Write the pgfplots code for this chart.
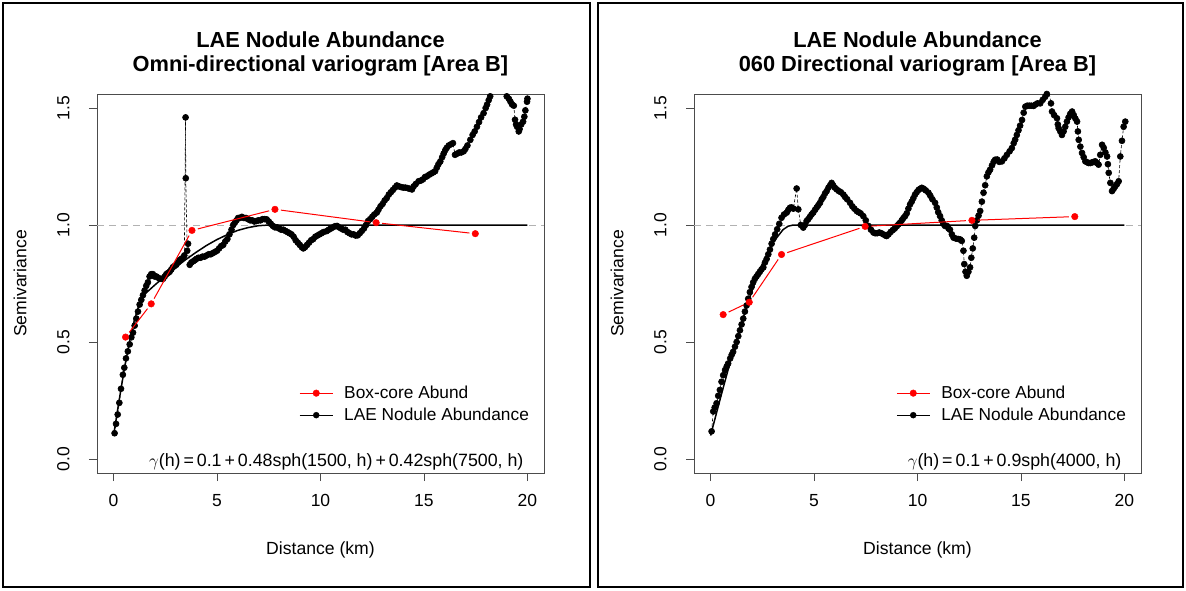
\documentclass[border=0pt]{standalone}
\usepackage{fontspec}
\setmainfont{Liberation Sans}
\usepackage{pgfplots}
\pgfplotsset{compat=1.18}

\pgfplotstableread{
x y
0.05 0.11
0.12 0.15
0.20 0.19
0.28 0.24
0.36 0.30
0.45 0.36
0.52 0.39
0.60 0.43
0.69 0.46
0.78 0.49
0.86 0.52
0.94 0.54
1.02 0.57
1.10 0.60
1.18 0.63
1.26 0.66
1.34 0.68
1.42 0.70
1.50 0.72
1.58 0.74
1.66 0.755
1.74 0.78
1.82 0.79
1.90 0.79
1.98 0.78
2.07 0.78
2.15 0.775
2.23 0.77
2.31 0.77
2.39 0.77
2.47 0.78
2.55 0.79
2.63 0.795
2.71 0.80
2.79 0.81
2.87 0.82
2.95 0.825
3.03 0.83
3.11 0.84
3.19 0.85
3.27 0.855
3.36 0.86
3.42 0.87
3.48 1.46
3.49 1.20
3.56 0.89
3.60 0.92
3.68 0.83
3.76 0.84
3.85 0.845
3.93 0.85
4.00 0.855
4.10 0.86
4.20 0.86
4.30 0.865
4.40 0.865
4.50 0.87
4.60 0.875
4.70 0.875
4.80 0.88
4.90 0.885
5.00 0.89
5.10 0.90
5.20 0.91
5.30 0.915
5.40 0.93
5.50 0.94
5.60 0.96
5.70 0.98
5.78 1.00
5.86 1.01
5.94 1.02
6.02 1.03
6.10 1.03
6.20 1.035
6.30 1.03
6.40 1.03
6.50 1.025
6.60 1.02
6.70 1.02
6.80 1.015
6.90 1.017
7.00 1.02
7.10 1.02
7.20 1.025
7.30 1.025
7.40 1.024
7.50 1.015
7.60 1.005
7.70 0.996
7.80 0.99
7.90 0.99
8.00 0.985
8.10 0.98
8.20 0.98
8.30 0.975
8.40 0.97
8.50 0.965
8.60 0.96
8.70 0.95
8.80 0.935
8.90 0.925
9.00 0.915
9.10 0.905
9.17 0.90
9.25 0.905
9.35 0.915
9.45 0.925
9.55 0.935
9.65 0.94
9.75 0.95
9.85 0.955
9.95 0.96
10.05 0.965
10.15 0.97
10.30 0.974
10.40 0.98
10.50 0.985
10.60 0.99
10.70 0.995
10.80 0.996
10.90 0.99
11.00 0.985
11.10 0.98
11.20 0.98
11.30 0.97
11.40 0.965
11.50 0.96
11.60 0.96
11.70 0.955
11.80 0.956
11.90 0.965
12.00 0.975
12.10 0.985
12.20 1.00
12.30 1.017
12.40 1.025
12.50 1.035
12.60 1.045
12.72 1.053
12.80 1.065
12.90 1.08
13.00 1.09
13.10 1.105
13.20 1.115
13.30 1.13
13.40 1.14
13.50 1.15
13.60 1.16
13.69 1.169
13.80 1.165
13.90 1.162
14.00 1.16
14.10 1.16
14.20 1.158
14.30 1.155
14.42 1.152
14.50 1.165
14.60 1.175
14.74 1.187
14.85 1.19
14.95 1.195
15.05 1.205
15.14 1.208
15.25 1.215
15.35 1.22
15.45 1.225
15.54 1.23
15.62 1.245
15.70 1.26
15.79 1.272
15.88 1.29
15.95 1.305
16.03 1.32
16.10 1.33
16.20 1.34
16.30 1.345
16.40 1.35
16.50 1.30
16.60 1.305
16.70 1.31
16.80 1.31
16.92 1.315
17.00 1.325
17.10 1.34
17.24 1.364
17.35 1.385
17.45 1.40
17.56 1.42
17.66 1.44
17.76 1.46
17.88 1.478
17.98 1.50
18.05 1.515
18.13 1.534
18.20 1.55
18.30 1.58
18.45 1.61
18.60 1.62
18.80 1.58
19.00 1.55
19.10 1.54
19.18 1.527
19.26 1.515
19.34 1.51
19.40 1.45
19.45 1.43
19.50 1.42
19.58 1.40
19.62 1.41
19.70 1.43
19.79 1.442
19.85 1.463
19.90 1.49
19.98 1.527
20.00 1.54
}\omnidata

\pgfplotstableread{
x y
0.05 0.118
0.13 0.203
0.20 0.22
0.29 0.238
0.37 0.27
0.45 0.295
0.53 0.33
0.61 0.358
0.70 0.38
0.78 0.395
0.85 0.408
0.95 0.43
1.02 0.445
1.09 0.458
1.18 0.48
1.26 0.50
1.34 0.525
1.42 0.55
1.50 0.575
1.58 0.60
1.66 0.63
1.74 0.656
1.82 0.685
1.90 0.713
1.98 0.735
2.06 0.755
2.14 0.77
2.22 0.78
2.30 0.79
2.38 0.80
2.46 0.81
2.55 0.819
2.63 0.84
2.71 0.855
2.79 0.875
2.87 0.895
2.95 0.92
3.03 0.94
3.12 0.96
3.22 0.982
3.32 1.005
3.43 1.031
3.55 1.045
3.68 1.053
3.76 1.065
3.84 1.074
3.92 1.075
4.00 1.07
4.16 1.156
4.24 1.067
4.36 1.00
4.48 0.989
4.56 1.00
4.64 1.017
4.72 1.025
4.80 1.035
4.88 1.045
4.96 1.053
5.05 1.065
5.13 1.075
5.21 1.085
5.29 1.095
5.37 1.11
5.45 1.12
5.53 1.135
5.61 1.145
5.70 1.16
5.78 1.17
5.85 1.18
5.92 1.17
6.00 1.16
6.10 1.152
6.20 1.145
6.30 1.14
6.42 1.13
6.50 1.12
6.60 1.11
6.74 1.095
6.85 1.08
6.95 1.07
7.06 1.06
7.15 1.055
7.25 1.05
7.38 1.038
7.50 1.02
7.63 0.996
7.75 0.98
7.87 0.968
7.95 0.965
8.05 0.965
8.15 0.968
8.25 0.965
8.35 0.96
8.45 0.955
8.51 0.953
8.60 0.96
8.70 0.97
8.80 0.978
8.90 0.985
9.00 0.995
9.08 1.003
9.16 1.01
9.24 1.02
9.32 1.03
9.40 1.038
9.48 1.05
9.56 1.07
9.64 1.088
9.72 1.10
9.80 1.115
9.88 1.13
9.96 1.14
10.05 1.15
10.13 1.155
10.21 1.159
10.30 1.155
10.40 1.148
10.53 1.138
10.62 1.125
10.72 1.11
10.85 1.095
10.93 1.075
11.00 1.055
11.09 1.038
11.17 1.02
11.25 1.005
11.33 0.996
11.42 0.996
11.50 0.985
11.57 0.98
11.66 0.96
11.74 0.946
11.86 0.942
11.98 0.94
12.07 0.938
12.14 0.932
12.22 0.89
12.26 0.833
12.32 0.80
12.38 0.783
12.46 0.80
12.54 0.819
12.60 0.86
12.67 0.90
12.74 0.946
12.79 0.996
12.87 1.02
12.95 1.04
13.03 1.06
13.11 1.10
13.19 1.138
13.27 1.17
13.35 1.208
13.43 1.225
13.51 1.237
13.60 1.255
13.68 1.27
13.75 1.279
13.85 1.28
13.95 1.27
14.08 1.272
14.20 1.285
14.32 1.30
14.45 1.315
14.56 1.329
14.65 1.35
14.72 1.365
14.80 1.385
14.88 1.405
14.96 1.425
15.05 1.449
15.13 1.48
15.21 1.506
15.30 1.51
15.40 1.51
15.50 1.51
15.61 1.509
15.70 1.515
15.80 1.52
15.93 1.52
16.05 1.535
16.17 1.548
16.25 1.56
16.35 1.57
16.45 1.52
16.50 1.485
16.60 1.47
16.74 1.456
16.78 1.43
16.82 1.414
16.90 1.40
16.98 1.385
17.06 1.40
17.14 1.42
17.22 1.442
17.30 1.46
17.38 1.475
17.47 1.485
17.55 1.47
17.63 1.455
17.71 1.442
17.75 1.40
17.79 1.364
17.87 1.335
17.95 1.308
18.03 1.29
18.11 1.272
18.20 1.268
18.27 1.265
18.35 1.265
18.45 1.268
18.52 1.27
18.59 1.272
18.67 1.265
18.75 1.258
18.83 1.30
18.92 1.343
19.00 1.33
19.08 1.31
19.16 1.293
19.20 1.26
19.24 1.223
19.32 1.18
19.40 1.145
19.48 1.155
19.56 1.166
19.64 1.175
19.72 1.187
19.80 1.293
19.88 1.36
19.96 1.42
20.04 1.442
}\dirdata

\pgfplotsset{
  vario/.style={
    scale only axis, width=447pt, height=379pt,
    anchor=south west, clip mode=individual,
    xmin=-0.8, xmax=20.8, ymin=-0.06, ymax=1.56,
    xtick={0,5,10,15,20}, ytick={0,0.5,1,1.5},
    tick pos=left, tick align=outside,
    major tick length=8pt,
    axis line style={black!70, line width=0.9pt},
    every tick/.style={black!70, line width=0.9pt},
    tick label style={font=\fontsize{17.5}{17.5}\selectfont, black},
    /pgf/number format/assume math mode=true,
    yticklabel style={rotate=90, anchor=south, /pgf/number format/fixed, /pgf/number format/fixed zerofill, /pgf/number format/precision=1},
    yticklabel shift=16pt,
    xticklabel shift=10pt,
    legend style={draw=none, fill=none, at={(0.452,0.235)}, anchor=north west,
      font=\fontsize{17.3}{17.3}\selectfont, inner sep=0pt, row sep=4pt,
      /tikz/every odd column/.append style={column sep=9pt}},
    legend cell align=left,
  },
  blk/.style={black, densely dashed, line width=0.6pt, mark=*, mark size=3pt,
    mark options={solid}},
  mdl/.style={black, line width=1.5pt, no markers},
  redpt/.style={only marks, red, mark=*, mark size=3.3pt},
  redln/.style={red, line width=1pt, no markers, shorten <=6pt, shorten >=6pt},
  gline/.style={black!30, dashed, line width=1pt, dash pattern=on 7pt off 5pt},
}

\begin{document}
\begin{tikzpicture}[x=1pt,y=1pt]
\path[use as bounding box] (0,0) rectangle (1186,590);
\draw[line width=2pt] (3,3) rectangle (590,587);
\draw[line width=2pt] (598,3) rectangle (1183,587);

% ---------------- left panel ----------------
\begin{axis}[vario, at={(97pt,117pt)}]
\addplot[gline, forget plot] coordinates {(-0.8,1) (20.8,1)};
\addplot[blk, forget plot] table {\omnidata};
\addplot[mdl, forget plot] coordinates {(0,0.1) (0.1,0.156) (0.25,0.240) (0.5,0.373) (0.75,0.493) (1,0.592) (1.25,0.665) (1.5,0.704) (2,0.744) (2.5,0.782) (3,0.819) (3.5,0.853) (4,0.884) (4.5,0.913) (5,0.938) (5.5,0.959) (6,0.977) (6.5,0.989) (7,0.997) (7.5,1.0) (20,1.0)};
\addplot[redln, forget plot] coordinates {(0.58,0.521) (1.82,0.663)};
\addplot[redln, forget plot] coordinates {(1.82,0.663) (3.79,0.977)};
\addplot[redln, forget plot] coordinates {(3.79,0.977) (7.8,1.067)};
\addplot[redln, forget plot] coordinates {(7.8,1.067) (12.69,1.01)};
\addplot[redln, forget plot] coordinates {(12.69,1.01) (17.48,0.963)};
\addplot[redpt, forget plot] coordinates {(0.58,0.521) (1.82,0.663) (3.79,0.977) (7.8,1.067) (12.69,1.01) (17.48,0.963)};
\addlegendimage{legend image code/.code={\draw[red, line width=1pt] (0pt,0pt) -- (33pt,0pt); \fill[red] (16.5pt,0pt) circle (3.3pt);}}
\addlegendentry{Box-core Abund}
\addlegendimage{legend image code/.code={\draw[black, line width=1pt] (0pt,0pt) -- (33pt,0pt); \fill[black] (16.5pt,0pt) circle (3pt);}}
\addlegendentry{LAE Nodule Abundance}
\node[anchor=east, font=\fontsize{17.8}{17}\selectfont] at (axis description cs:0.962,0.029) {$\gamma$(h)\,=\,0.1\,+\,0.48sph(1500, h)\,+\,0.42sph(7500, h)};
\node[font=\fontsize{17.6}{17}\selectfont] at (axis description cs:0.5,0) [yshift=-77pt] {Distance (km)};
\node[font=\fontsize{17.6}{17}\selectfont] at (axis description cs:0,0.5) [xshift=-77pt, rotate=90] {Semivariance};
\node[font=\bfseries\fontsize{21.8}{22}\selectfont] at (axis description cs:0.5,1) [yshift=54pt] {LAE Nodule Abundance};
\node[font=\bfseries\fontsize{21.8}{22}\selectfont] at (axis description cs:0.5,1) [yshift=28pt] {Omni-directional variogram [Area B]};
\end{axis}

% ---------------- right panel ----------------
\begin{axis}[vario, at={(694pt,117pt)}]
\addplot[gline, forget plot] coordinates {(-0.8,1) (20.8,1)};
\addplot[blk, forget plot] table {\dirdata};
\addplot[mdl, forget plot] coordinates {(0,0.1) (0.25,0.184) (0.5,0.268) (1,0.431) (1.5,0.583) (2,0.719) (2.5,0.834) (3,0.923) (3.5,0.980) (3.75,0.995) (4,1.0) (20,1.0)};
\addplot[redln, forget plot] coordinates {(0.61,0.617) (1.87,0.67)};
\addplot[redln, forget plot] coordinates {(1.87,0.67) (3.43,0.874)};
\addplot[redln, forget plot] coordinates {(3.43,0.874) (7.47,0.994)};
\addplot[redln, forget plot] coordinates {(7.47,0.994) (12.63,1.02)};
\addplot[redln, forget plot] coordinates {(12.63,1.02) (17.6,1.036)};
\addplot[redpt, forget plot] coordinates {(0.61,0.617) (1.87,0.67) (3.43,0.874) (7.47,0.994) (12.63,1.02) (17.6,1.036)};
\addlegendimage{legend image code/.code={\draw[red, line width=1pt] (0pt,0pt) -- (33pt,0pt); \fill[red] (16.5pt,0pt) circle (3.3pt);}}
\addlegendentry{Box-core Abund}
\addlegendimage{legend image code/.code={\draw[black, line width=1pt] (0pt,0pt) -- (33pt,0pt); \fill[black] (16.5pt,0pt) circle (3pt);}}
\addlegendentry{LAE Nodule Abundance}
\node[anchor=east, font=\fontsize{17.8}{17}\selectfont] at (axis description cs:0.964,0.029) {$\gamma$(h)\,=\,0.1\,+\,0.9sph(4000, h)};
\node[font=\fontsize{17.6}{17}\selectfont] at (axis description cs:0.5,0) [yshift=-77pt] {Distance (km)};
\node[font=\fontsize{17.6}{17}\selectfont] at (axis description cs:0,0.5) [xshift=-77pt, rotate=90] {Semivariance};
\node[font=\bfseries\fontsize{21.8}{22}\selectfont] at (axis description cs:0.5,1) [yshift=54pt] {LAE Nodule Abundance};
\node[font=\bfseries\fontsize{21.8}{22}\selectfont] at (axis description cs:0.5,1) [yshift=28pt] {060 Directional variogram [Area B]};
\end{axis}
\end{tikzpicture}
\end{document}
